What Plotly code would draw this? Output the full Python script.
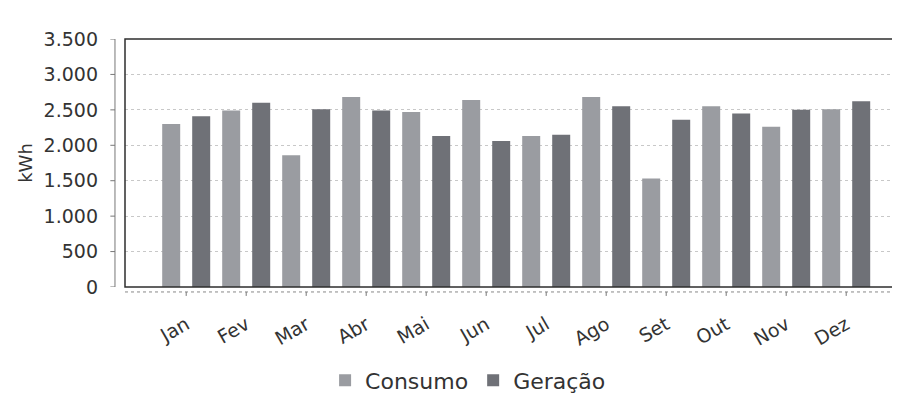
import plotly.graph_objects as go

meses = ["Jan", "Fev", "Mar", "Abr", "Mai", "Jun", "Jul", "Ago", "Set", "Out", "Nov", "Dez"]
consumo = [2300, 2490, 1860, 2680, 2470, 2640, 2130, 2680, 1530, 2550, 2260, 2510]
geracao = [2410, 2600, 2510, 2490, 2130, 2060, 2150, 2550, 2360, 2450, 2500, 2620]
y_ticks = [0, 500, 1000, 1500, 2000, 2500, 3000, 3500]
y_labels = ["0", "500", "1.000", "1.500", "2.000", "2.500", "3.000", "3.500"]

FONT = "DejaVu Sans"
TXT = "#333333"

fig = go.Figure()
fig.add_trace(go.Bar(name="Consumo", x=meses, y=consumo, width=0.3, offset=-0.4,
                     marker=dict(color="#9a9ca1", line=dict(width=0))))
fig.add_trace(go.Bar(name="Geração", x=meses, y=geracao, width=0.3, offset=0.1,
                     marker=dict(color="#6f7177", line=dict(width=0))))

shapes = [
    # plot border
    dict(type="rect", xref="paper", yref="paper", x0=0, x1=1, y0=0, y1=1,
         line=dict(color="#2e2e2e", width=1.5), layer="above"),
    # offset value axis line
    dict(type="line", xref="paper", yref="paper", x0=-0.013, x1=-0.013, y0=0, y1=1,
         line=dict(color="#777777", width=1)),
    # offset category axis line (dotted)
    dict(type="line", xref="paper", yref="paper", x0=0, x1=1, y0=-0.02, y1=-0.02,
         line=dict(color="#888888", width=1, dash="dot")),
]
for v in y_ticks:
    shapes.append(dict(type="line", xref="paper", yref="y", x0=-0.019, x1=-0.013, y0=v, y1=v,
                       line=dict(color="#777777", width=1)))
for m in meses:
    shapes.append(dict(type="line", xref="x", yref="paper", x0=m, x1=m, y0=-0.02, y1=-0.036,
                       line=dict(color="#777777", width=1)))

fig.update_layout(
    width=900, height=405,
    margin=dict(l=117, r=12, t=31, b=117),
    paper_bgcolor="white", plot_bgcolor="white",
    barmode="overlay",
    font=dict(family=FONT, color=TXT, size=18),
    showlegend=True,
    legend=dict(orientation="h", x=0.445, xanchor="center", y=-0.377, yanchor="middle",
                font=dict(size=22, family=FONT, color=TXT), itemwidth=30, traceorder="normal"),
    shapes=shapes,
)
fig.update_xaxes(type="category", range=[-1.02, 11.83], showgrid=False, showline=False,
                 ticks="", tickangle=-30, tickfont=dict(size=19, family=FONT, color=TXT),
                 ticklabelstandoff=22, zeroline=False)
fig.update_yaxes(range=[0, 3500], tickvals=y_ticks, ticktext=y_labels, ticks="",
                 showline=False, zeroline=False,
                 showgrid=True, gridcolor="#c8c8c8", griddash="dot", gridwidth=1,
                 tickfont=dict(size=19, family=FONT, color=TXT), ticklabelstandoff=26,
                 title=dict(text="kWh", font=dict(size=18, family=FONT, color=TXT), standoff=6))

fig.write_html("out.html")
